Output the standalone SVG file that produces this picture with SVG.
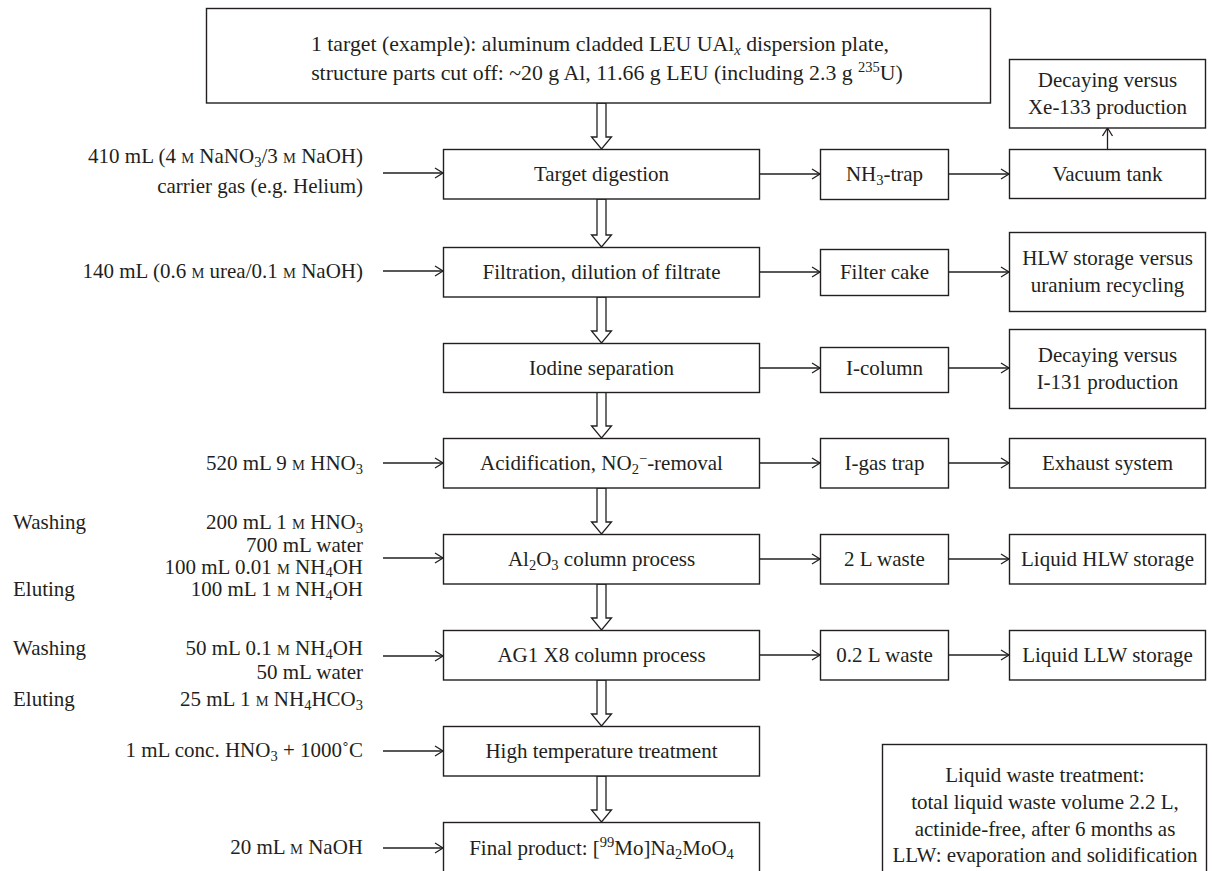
<svg xmlns="http://www.w3.org/2000/svg" width="1212" height="871" viewBox="0 0 1212 871">
<style>
text{font-family:"Liberation Serif","Times New Roman",serif;font-size:21px;fill:#231f20}
.t{font-size:21.8px}
.c{text-anchor:middle}
.e{text-anchor:end}
.sc{font-size:14.5px}
.s{font-size:14.5px}
.box{fill:#fff;stroke:#231f20;stroke-width:1.4}
.ln{fill:none;stroke:#231f20;stroke-width:1.3}
.blk{fill:#fff;stroke:#231f20;stroke-width:1.3;stroke-linejoin:miter}
</style>
<defs>
<marker id="ah" markerUnits="userSpaceOnUse" markerWidth="12" markerHeight="14" refX="9" refY="6" orient="auto">
<path d="M1,1 L9,6 L1,11" fill="none" stroke="#231f20" stroke-width="1.3"/>
</marker>
</defs>
<rect width="1212" height="871" fill="#fff"/>

<g id="connectors">
<polygon class="blk" points="597,103 606,103 606,137 611.5,137 601.5,149 591.5,137 597,137"/>
<polygon class="blk" points="597,199 606,199 606,235 611.5,235 601.5,247 591.5,235 597,235"/>
<polygon class="blk" points="597,297 606,297 606,331 611.5,331 601.5,343 591.5,331 597,331"/>
<polygon class="blk" points="597,392 606,392 606,426 611.5,426 601.5,438 591.5,426 597,426"/>
<polygon class="blk" points="597,488 606,488 606,522 611.5,522 601.5,534 591.5,522 597,522"/>
<polygon class="blk" points="597,584 606,584 606,618 611.5,618 601.5,630 591.5,618 597,618"/>
<polygon class="blk" points="597,680 606,680 606,714 611.5,714 601.5,726 591.5,714 597,714"/>
<polygon class="blk" points="597,776 606,776 606,810 611.5,810 601.5,822 591.5,810 597,810"/>
<line class="ln" x1="383" y1="173" x2="443" y2="173" marker-end="url(#ah)"/>
<line class="ln" x1="383" y1="271" x2="443" y2="271" marker-end="url(#ah)"/>
<line class="ln" x1="383" y1="463" x2="443" y2="463" marker-end="url(#ah)"/>
<line class="ln" x1="383" y1="558" x2="443" y2="558" marker-end="url(#ah)"/>
<line class="ln" x1="383" y1="656" x2="443" y2="656" marker-end="url(#ah)"/>
<line class="ln" x1="383" y1="751" x2="443" y2="751" marker-end="url(#ah)"/>
<line class="ln" x1="383" y1="848" x2="443" y2="848" marker-end="url(#ah)"/>
<line class="ln" x1="760" y1="174" x2="820" y2="174" marker-end="url(#ah)"/>
<line class="ln" x1="949" y1="174" x2="1009" y2="174" marker-end="url(#ah)"/>
<line class="ln" x1="1107.5" y1="149" x2="1107.5" y2="128" marker-end="url(#ah)"/>
<line class="ln" x1="760" y1="272" x2="820" y2="272" marker-end="url(#ah)"/>
<line class="ln" x1="949" y1="272" x2="1009" y2="272" marker-end="url(#ah)"/>
<line class="ln" x1="760" y1="368" x2="820" y2="368" marker-end="url(#ah)"/>
<line class="ln" x1="949" y1="368" x2="1009" y2="368" marker-end="url(#ah)"/>
<line class="ln" x1="760" y1="463" x2="820" y2="463" marker-end="url(#ah)"/>
<line class="ln" x1="949" y1="463" x2="1009" y2="463" marker-end="url(#ah)"/>
<line class="ln" x1="760" y1="559" x2="820" y2="559" marker-end="url(#ah)"/>
<line class="ln" x1="949" y1="559" x2="1009" y2="559" marker-end="url(#ah)"/>
<line class="ln" x1="760" y1="655" x2="820" y2="655" marker-end="url(#ah)"/>
<line class="ln" x1="949" y1="655" x2="1009" y2="655" marker-end="url(#ah)"/>
</g>

<g id="target">
<rect class="box" x="206.5" y="8.5" width="784" height="94.5"/>
<text class="c t" x="600" y="51">1 target (example): aluminum cladded LEU UAl<tspan class="s" dy="4" font-style="italic">x</tspan><tspan dy="-4"> dispersion plate,</tspan></text>
<text class="c t" x="607" y="80">structure parts cut off: ~20 g Al, 11.66 g LEU (including 2.3 g <tspan class="s" dy="-8">235</tspan><tspan dy="8">U)</tspan></text>
</g>

<g id="digestion">
<rect class="box" x="443.5" y="149.5" width="316" height="49.5"/>
<text class="c" x="601.5" y="181">Target digestion</text>
</g>
<g id="filtration">
<rect class="box" x="443.5" y="247.5" width="316" height="49.5"/>
<text class="c" x="601.5" y="279">Filtration, dilution of filtrate</text>
</g>
<g id="iodine">
<rect class="box" x="443.5" y="343.5" width="316" height="49"/>
<text class="c" x="601.5" y="375">Iodine separation</text>
</g>
<g id="acidification">
<rect class="box" x="443.5" y="438.5" width="316" height="49.5"/>
<text class="c" x="601.5" y="470">Acidification, NO<tspan class="s" dy="4">2</tspan><tspan class="s" dy="-11">−</tspan><tspan dy="7">-removal</tspan></text>
</g>
<g id="al2o3">
<rect class="box" x="443.5" y="534.5" width="316" height="49.5"/>
<text class="c" x="601.5" y="566">Al<tspan class="s" dy="4">2</tspan><tspan dy="-4">O</tspan><tspan class="s" dy="4">3</tspan><tspan dy="-4"> column process</tspan></text>
</g>
<g id="ag1">
<rect class="box" x="443.5" y="630.5" width="316" height="49.5"/>
<text class="c" x="601.5" y="662">AG1 X8 column process</text>
</g>
<g id="hightemp">
<rect class="box" x="443.5" y="726.5" width="316" height="49.5"/>
<text class="c" x="601.5" y="758">High temperature treatment</text>
</g>
<g id="final">
<rect class="box" x="443.5" y="822.5" width="316" height="60"/>
<text class="c" x="601.5" y="855">Final product: [<tspan class="s" dy="-8">99</tspan><tspan dy="8">Mo]Na</tspan><tspan class="s" dy="4">2</tspan><tspan dy="-4">MoO</tspan><tspan class="s" dy="4">4</tspan></text>
</g>

<g id="nh3trap">
<rect class="box" x="820.5" y="149.5" width="128" height="50"/>
<text class="c" x="884.5" y="181">NH<tspan class="s" dy="4">3</tspan><tspan dy="-4">-trap</tspan></text>
</g>
<g id="vacuum">
<rect class="box" x="1009.5" y="149.5" width="196" height="49"/>
<text class="c" x="1107.5" y="181">Vacuum tank</text>
</g>
<g id="xe133">
<rect class="box" x="1009.5" y="59.5" width="196" height="68.5"/>
<text class="c" x="1107.5" y="87">Decaying versus</text>
<text class="c" x="1107.5" y="114">Xe-133 production</text>
</g>
<g id="filtercake">
<rect class="box" x="820.5" y="249.5" width="128" height="46"/>
<text class="c" x="884.5" y="279">Filter cake</text>
</g>
<g id="hlwstorage">
<rect class="box" x="1009.5" y="232.5" width="196" height="79"/>
<text class="c" x="1107.5" y="265">HLW storage versus</text>
<text class="c" x="1107.5" y="292">uranium recycling</text>
</g>
<g id="icolumn">
<rect class="box" x="820.5" y="347.5" width="128" height="45"/>
<text class="c" x="884.5" y="375">I-column</text>
</g>
<g id="i131">
<rect class="box" x="1009.5" y="329.5" width="196" height="79"/>
<text class="c" x="1107.5" y="362">Decaying versus</text>
<text class="c" x="1107.5" y="389">I-131 production</text>
</g>
<g id="igastrap">
<rect class="box" x="820.5" y="438.5" width="128" height="49.5"/>
<text class="c" x="884.5" y="470">I-gas trap</text>
</g>
<g id="exhaust">
<rect class="box" x="1009.5" y="438.5" width="196" height="49.5"/>
<text class="c" x="1107.5" y="470">Exhaust system</text>
</g>
<g id="waste2">
<rect class="box" x="820.5" y="534.5" width="128" height="49.5"/>
<text class="c" x="884.5" y="566">2 L waste</text>
</g>
<g id="liquidhlw">
<rect class="box" x="1009.5" y="534.5" width="196" height="49.5"/>
<text class="c" x="1107.5" y="566">Liquid HLW storage</text>
</g>
<g id="waste02">
<rect class="box" x="820.5" y="630.5" width="128" height="49.5"/>
<text class="c" x="884.5" y="662">0.2 L waste</text>
</g>
<g id="liquidllw">
<rect class="box" x="1009.5" y="630.5" width="196" height="49.5"/>
<text class="c" x="1107.5" y="662">Liquid LLW storage</text>
</g>
<g id="wastetreatment">
<rect class="box" x="882.5" y="744.5" width="324" height="140"/>
<text class="c" x="1045" y="782">Liquid waste treatment:</text>
<text class="c" x="1045" y="809">total liquid waste volume 2.2 L,</text>
<text class="c" x="1045" y="836">actinide-free, after 6 months as</text>
<text class="c" x="1045" y="862">LLW: evaporation and solidification</text>
</g>

<g id="inputs">
<text class="e" x="363" y="163">410 mL (4 <tspan class="sc">M</tspan> NaNO<tspan class="s" dy="4">3</tspan><tspan dy="-4">/3 </tspan><tspan class="sc">M</tspan> NaOH)</text>
<text class="e" x="363" y="193">carrier gas (e.g. Helium)</text>
<text class="e" x="363" y="278">140 mL (0.6 <tspan class="sc">M</tspan> urea/0.1 <tspan class="sc">M</tspan> NaOH)</text>
<text class="e" x="363" y="470">520 mL 9 <tspan class="sc">M</tspan> HNO<tspan class="s" dy="4">3</tspan></text>
<text x="13" y="529">Washing</text>
<text class="e" x="363" y="529">200 mL 1 <tspan class="sc">M</tspan> HNO<tspan class="s" dy="3.5">3</tspan></text>
<text class="e" x="363" y="551.5">700 mL water</text>
<text class="e" x="363" y="573.5">100 mL 0.01 <tspan class="sc">M</tspan> NH<tspan class="s" dy="3.5">4</tspan><tspan dy="-3.5">OH</tspan></text>
<text x="13" y="596">Eluting</text>
<text class="e" x="363" y="596">100 mL 1 <tspan class="sc">M</tspan>  NH<tspan class="s" dy="3.5">4</tspan><tspan dy="-3.5">OH</tspan></text>
<text x="13" y="655">Washing</text>
<text class="e" x="363" y="655">50 mL 0.1 <tspan class="sc">M</tspan> NH<tspan class="s" dy="3.5">4</tspan><tspan dy="-3.5">OH</tspan></text>
<text class="e" x="363" y="679">50 mL water</text>
<text x="13" y="706">Eluting</text>
<text class="e" x="363" y="706">25 mL 1 <tspan class="sc">M</tspan> NH<tspan class="s" dy="3.5">4</tspan><tspan dy="-3.5">HCO</tspan><tspan class="s" dy="3.5">3</tspan></text>
<text class="e" x="363" y="757">1 mL conc. HNO<tspan class="s" dy="4">3</tspan><tspan dy="-4"> + 1000˚C</tspan></text>
<text class="e" x="363" y="854">20 mL <tspan class="sc">M</tspan> NaOH</text>
</g>
</svg>
